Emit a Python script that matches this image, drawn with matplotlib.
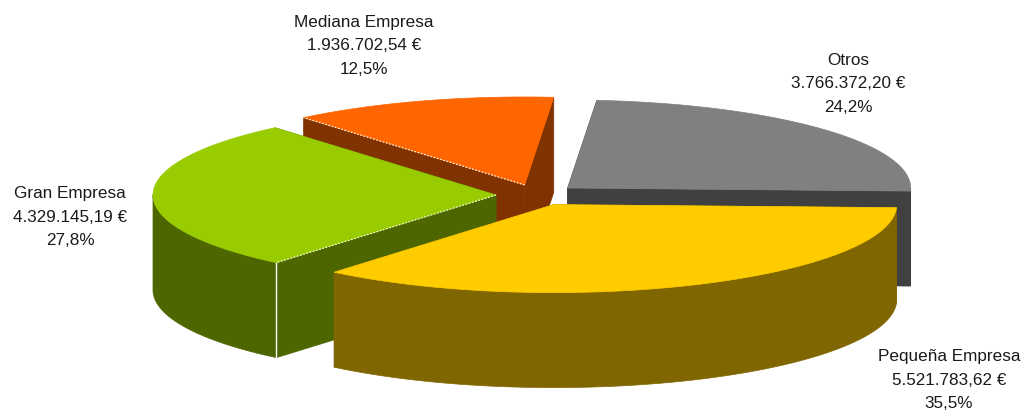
import numpy as np
import matplotlib
matplotlib.use('Agg')
import matplotlib.pyplot as plt

# data, in drawing order of the original (clockwise from 3 o'clock)
names = ['Pequeña Empresa', 'Gran Empresa', 'Mediana Empresa', 'Otros']
amounts = ['5.521.783,62 €', '4.329.145,19 €', '1.936.702,54 €', '3.766.372,20 €']
shares = [35.5, 27.8, 12.5, 24.2]

top_colors = ['#FFCC00', '#99CC00', '#FF6600', '#808080']
side_colors = ['#806600', '#4D6600', '#803300', '#404040']
label_pos = [(949, 380), (70, 217), (364, 46), (848, 84)]

# pie geometry in pixels
cx, cy = 537, 195
rx, ry = 343, 88
depth = 95
explode = 41
start = 2.0

plt.rcParams['font.family'] = ['Liberation Sans', 'DejaVu Sans']

fig = plt.figure(figsize=(10.23, 4.11), dpi=100)
ax = fig.add_axes([0, 0, 1, 1])
ax.set_xlim(0, 1023)
ax.set_ylim(411, 0)
ax.axis('off')


def rim(x0, y0, a, b):
    t = np.radians(np.linspace(a, b, 120))
    return x0 + rx * np.cos(t), y0 + ry * np.sin(t)


def side_face(x, y, color, zorder):
    xs = np.concatenate([x, x[::-1]])
    ys = np.concatenate([y, y[::-1] + depth])
    ax.fill(xs, ys, color=color, lw=0.5, zorder=zorder)


edges = start + np.concatenate([[0], np.cumsum(shares)]) / sum(shares) * 360
# back slices first so that the front ones cover them
order = [3, 2, 1, 0]
for z, i in enumerate(order):
    a, b = edges[i], edges[i + 1]
    mid = np.radians((a + b) / 2)
    x0 = cx + explode * np.cos(mid)
    y0 = cy + explode * np.sin(mid) * ry / rx
    zo = 10 + z * 5

    # flat cut faces
    for ang in (a, b):
        ex, ey = rim(x0, y0, ang, ang)
        side_face(np.array([x0, ex[0]]), np.array([y0, ey[0]]), side_colors[i], zo)

    # curved outer wall, only the part turned to the viewer
    for lo, hi in ((max(a, 0), min(b, 180)), (max(a, 360), b)):
        if hi > lo:
            x, y = rim(x0, y0, lo, hi)
            side_face(x, y, side_colors[i], zo + 1)

    # top
    x, y = rim(x0, y0, a, b)
    ax.fill(np.r_[x0, x], np.r_[y0, y], color=top_colors[i], lw=0.5, zorder=zo + 2)

    # thin white seam where the cut face meets the wall
    if names[i] == 'Gran Empresa':
        ex, ey = rim(x0, y0, a, a)
        ax.plot([ex[0], ex[0]], [ey[0], ey[0] + depth], color='white', lw=1.0, zorder=zo + 3)
        ax.plot([x0, ex[0]], [y0, ey[0]], color='white', lw=0.8, ls=(0, (1.5, 1.5)), zorder=zo + 3)
    if names[i] == 'Mediana Empresa':
        ex, ey = rim(x0, y0, a, a)
        ax.plot([x0, ex[0]], [y0, ey[0]], color='white', lw=0.8, ls=(0, (1.5, 1.5)), zorder=zo + 3)

for i in range(len(names)):
    txt = f'{names[i]}\n{amounts[i]}\n' + f'{shares[i]:.1f}%'.replace('.', ',')
    ax.text(label_pos[i][0], label_pos[i][1], txt, ha='center', va='center',
            fontsize=12.3, linespacing=1.72, color='#1a1a1a', zorder=50)

fig.savefig('out.png', dpi=100)
